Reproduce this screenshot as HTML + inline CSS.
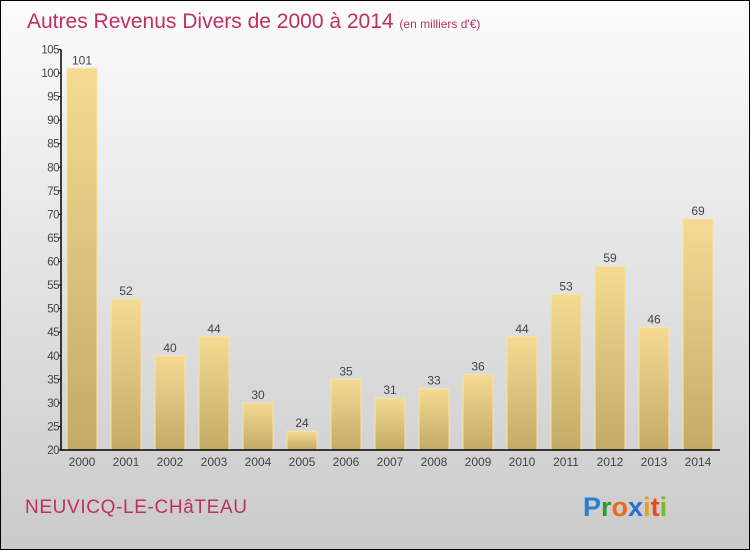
<!DOCTYPE html>
<html><head><meta charset="utf-8"><style>
body{margin:0;}
svg{display:block;font-family:"Liberation Sans",sans-serif;}
</style></head><body>
<svg id="c" width="750" height="550" viewBox="0 0 750 550">
<defs>
<linearGradient id="bg" x1="0" y1="0" x2="0" y2="1"><stop offset="0" stop-color="#fcfcfc"/><stop offset="1" stop-color="#cacaca"/></linearGradient>
<linearGradient id="bar" x1="0" y1="0" x2="0" y2="1"><stop offset="0" stop-color="#f4da92"/><stop offset="1" stop-color="#c4aa66"/></linearGradient>
</defs>
<rect x="0.5" y="0.5" width="749" height="549" fill="url(#bg)" stroke="#000"/>
<text x="27" y="28" font-size="21" fill="#c0305f">Autres Revenus Divers de 2000 à 2014 <tspan font-size="12">(en milliers d'€)</tspan></text>
<g id="plot"></g>
<text x="25" y="513" font-size="19" fill="#c0305f" textLength="222">NEUVICQ-LE-CHâTEAU</text>
<text x="583" y="516" font-size="27" font-weight="bold"><tspan fill="#2a7fd0">P</tspan><tspan fill="#2a9a3a">r</tspan><tspan fill="#e86a1a">o</tspan><tspan fill="#2a6fd0">x</tspan><tspan fill="#e8a01a">i</tspan><tspan fill="#e84a1a">t</tspan><tspan fill="#7ab82a">i</tspan></text>
</svg>
<script>
const years=["2000","2001","2002","2003","2004","2005","2006","2007","2008","2009","2010","2011","2012","2013","2014"];
const values=[101,52,40,44,30,24,35,31,33,36,44,53,59,46,69];
const ticks=[20,25,30,35,40,45,50,55,60,65,70,75,80,85,90,95,100,105];
const NS="http://www.w3.org/2000/svg";
const g=document.getElementById('plot');
const y0=450,ppu=4.7125,x0=61,x1=720;
const yS=v=>y0-(v-20)*ppu;
const xS=i=>82+i*44;
function el(t,a){const e=document.createElementNS(NS,t);for(const k in a)e.setAttribute(k,a[k]);g.appendChild(e);return e;}
values.forEach((v,i)=>{
 const r=el('rect',{x:xS(i)-15,y:yS(v),width:30,height:y0-yS(v),fill:'url(#bar)',stroke:'#f6e4a8','stroke-width':1});
 
 
 const t=el('text',{x:xS(i),y:yS(v)-4,'font-size':12,fill:'#444','text-anchor':'middle'});t.textContent=v;
 
 
 const l=el('text',{x:xS(i),y:466,'font-size':12,fill:'#444','text-anchor':'middle'});l.textContent=years[i];
 
 
});
const ax=el('path',{d:`M${x0} ${yS(105)}V${y0}H${x1}`,stroke:'#000','stroke-width':1.5,fill:'none'});


ticks.forEach(v=>{
 el('line',{x1:x0-3,x2:x0,y1:yS(v),y2:yS(v),stroke:'#000'});
 const t=el('text',{x:x0-2,y:yS(v)+4,'font-size':11.5,fill:'#444','text-anchor':'end','letter-spacing':'-0.5'});t.textContent=v;
 
 
});
</script>
</body></html>
